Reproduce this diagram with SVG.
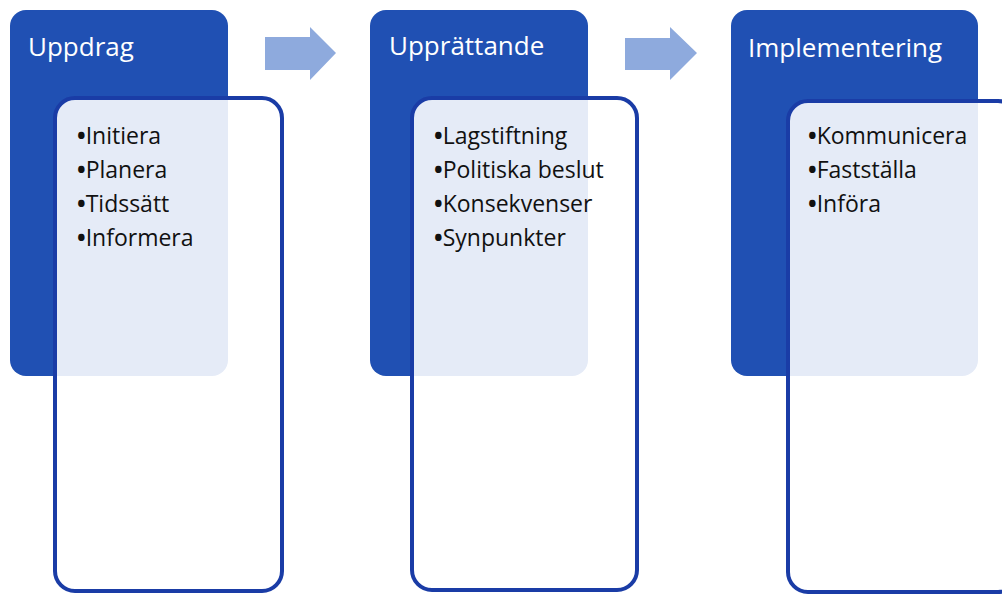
<svg xmlns="http://www.w3.org/2000/svg" width="1002" height="594" viewBox="0 0 1002 594">
<style>
.dark{fill:#2050b3}
.card{fill:#ffffff}
.pale{fill:#e5ebf7}
.edge{fill:none;stroke:#1a3ca6;stroke-width:4}
.arrow{fill:#8eaadd}
.title{font-family:"Open Sans","Liberation Sans",sans-serif;font-size:26px;fill:#ffffff}
.item{font-family:"Open Sans","Liberation Sans",sans-serif;font-size:23px;fill:#111111}
.b{font-weight:bold}
</style>
<defs>
<clipPath id="c1"><rect x="55" y="98" width="227" height="493" rx="20"/></clipPath>
<clipPath id="c2"><rect x="412" y="98" width="225" height="492" rx="20"/></clipPath>
<clipPath id="c3"><rect x="788" y="101" width="230" height="491" rx="20"/></clipPath>
</defs>
<rect width="1002" height="594" fill="#ffffff"/>
<g id="connectors">
<path class="arrow" d="M265,37 H310 V27 L336,53 L310,80 V70 H265 Z"/>
<path class="arrow" d="M625,38 H670 V27 L697,53 L670,80 V70 H625 Z"/>
</g>
<g id="node-uppdrag">
<rect class="dark" x="10" y="10" width="218" height="366" rx="16"/>
<rect class="card" x="55" y="98" width="227" height="493" rx="20"/>
<rect class="pale" x="10" y="10" width="218" height="366" rx="16" clip-path="url(#c1)"/>
<rect class="edge" x="55" y="98" width="227" height="493" rx="20"/>
<text class="title" x="28" y="56">Uppdrag</text>
<text class="item" x="77" y="144"><tspan class="b">•</tspan>Initiera</text>
<text class="item" x="77" y="178"><tspan class="b">•</tspan>Planera</text>
<text class="item" x="77" y="212"><tspan class="b">•</tspan>Tidssätt</text>
<text class="item" x="77" y="246"><tspan class="b">•</tspan>Informera</text>
</g>
<g id="node-upprattande">
<rect class="dark" x="370" y="10" width="218" height="366" rx="16"/>
<rect class="card" x="412" y="98" width="225" height="492" rx="20"/>
<rect class="pale" x="370" y="10" width="218" height="366" rx="16" clip-path="url(#c2)"/>
<rect class="edge" x="412" y="98" width="225" height="492" rx="20"/>
<text class="title" x="389" y="55">Upprättande</text>
<text class="item" x="434" y="144"><tspan class="b">•</tspan>Lagstiftning</text>
<text class="item" x="434" y="178"><tspan class="b">•</tspan>Politiska beslut</text>
<text class="item" x="434" y="212"><tspan class="b">•</tspan>Konsekvenser</text>
<text class="item" x="434" y="246"><tspan class="b">•</tspan>Synpunkter</text>
</g>
<g id="node-implementering">
<rect class="dark" x="731" y="10" width="247" height="366" rx="16"/>
<rect class="card" x="788" y="101" width="230" height="491" rx="20"/>
<rect class="pale" x="731" y="10" width="247" height="366" rx="16" clip-path="url(#c3)"/>
<rect class="edge" x="788" y="101" width="230" height="491" rx="20"/>
<text class="title" x="748" y="57">Implementering</text>
<text class="item" x="808" y="144"><tspan class="b">•</tspan>Kommunicera</text>
<text class="item" x="808" y="178"><tspan class="b">•</tspan>Fastställa</text>
<text class="item" x="808" y="212"><tspan class="b">•</tspan>Införa</text>
</g>
</svg>
